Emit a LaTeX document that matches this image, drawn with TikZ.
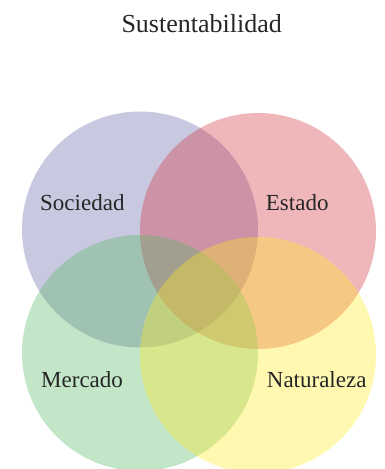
\documentclass[tikz,border=0pt]{standalone}
\usepackage{fontspec}
\setmainfont{Liberation Serif}
\newfontfamily\vennfont{Liberation Serif}
\definecolor{socC}{RGB}{98,98,166}
\definecolor{estC}{RGB}{212,49,61}
\definecolor{merC}{RGB}{86,184,98}
\definecolor{natC}{RGB}{255,235,29}
\tikzset{
  venn/.style={circle, minimum size=236pt, inner sep=0pt, fill opacity=0.35, draw=none},
  lbl/.style={anchor=base west, inner sep=0pt, text=black!85, font=\vennfont\fontsize{23}{27}\selectfont},
  ttl/.style={anchor=base, inner sep=0pt, text=black!85, font=\vennfont\fontsize{26}{30}\selectfont}
}
\begin{document}
\begin{tikzpicture}[x=1pt,y=1pt]
\useasboundingbox (0,0) rectangle (384,469);
\node[venn, fill=socC] (s) at (140,239.5) {};
\node[venn, fill=estC] (e) at (258,238) {};
\node[venn, fill=merC] (m) at (140,116) {};
\node[venn, fill=natC] (n) at (258,114) {};
\node[ttl] (t) at (201.7,436.5) {Sustentabilidad};
\node[lbl] (ls) at (40,258) {Sociedad};
\node[lbl] (le) at (265.7,258) {Estado};
\node[lbl] (lm) at (41,81.5) {Mercado};
\node[lbl] (ln) at (266.7,81.5) {Naturaleza};
\end{tikzpicture}
\end{document}
